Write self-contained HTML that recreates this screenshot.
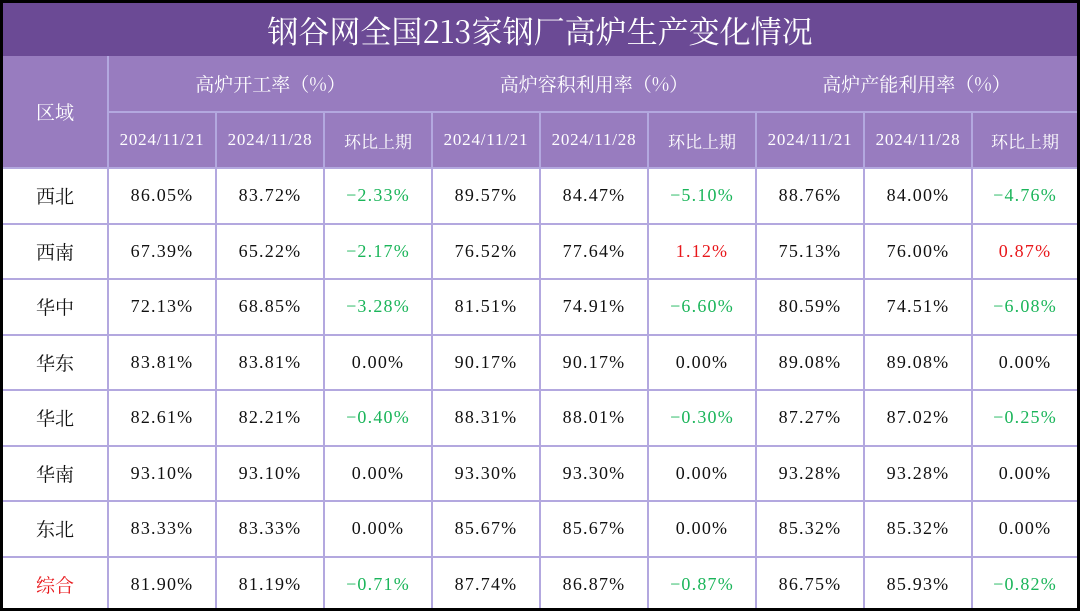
<!DOCTYPE html>
<html><head><meta charset="utf-8"><style>
*{margin:0;padding:0;box-sizing:border-box}
body{width:1080px;height:611px;background:#000;overflow:hidden;position:relative;font-family:"Liberation Serif","Noto Serif CJK SC",serif}
#wrap{position:absolute;left:3px;top:3px;width:1074px;height:605px;background:#fff;overflow:hidden}
#title{position:absolute;left:0;top:0;width:1074px;height:53px;background:#6b4a95;color:#fff;font-size:31px;text-align:center;line-height:53px;font-family:"Noto Serif CJK SC",serif}
table{position:absolute;left:0;top:53px;border-collapse:collapse;table-layout:fixed;width:1074px}
td{border:2px solid #b3a8df;text-align:center;font-size:18px;letter-spacing:1.2px;color:#111;height:55.5px}
.h td{background:#987cbf;color:#fff;border-color:#b3a8df}
tr.h1 td{height:56px;font-size:19px;letter-spacing:0;font-family:"Noto Serif CJK SC",serif}
tr.h2 td{height:56px;font-size:17px;letter-spacing:0.8px}
td.reg{font-size:19px;letter-spacing:0;font-family:"Noto Serif CJK SC",serif}
.g{color:#1bb55a}.r{color:#e8171b}
table tr td:first-child{border-left:none}
table tr td:last-child{border-right:none}
</style></head><body>
<div id="wrap">
<div id="title">钢谷网全国213家钢厂高炉生产变化情况</div>
<table>
<colgroup><col style="width:105px"><col style="width:108px"><col style="width:108px"><col style="width:108px"><col style="width:108px"><col style="width:108px"><col style="width:108px"><col style="width:108px"><col style="width:108px"><col style="width:105px"></colgroup>
<tr class="h h1"><td rowspan="2" style="border-top:none">区域</td>
<td colspan="3" style="border-top:none;border-left:none;border-right:none">高炉开工率（%）</td>
<td colspan="3" style="border-top:none;border-left:none;border-right:none">高炉容积利用率（%）</td>
<td colspan="3" style="border-top:none;border-left:none">高炉产能利用率（%）</td></tr>
<tr class="h h2" id="h2"></tr>
<tbody id="body"></tbody>
</table>
</div>
<script>
const regions=["西北","西南","华中","华东","华北","华南","东北","综合"];
const rows=[
["86.05%","83.72%","-2.33%","89.57%","84.47%","-5.10%","88.76%","84.00%","-4.76%"],
["67.39%","65.22%","-2.17%","76.52%","77.64%","1.12%","75.13%","76.00%","0.87%"],
["72.13%","68.85%","-3.28%","81.51%","74.91%","-6.60%","80.59%","74.51%","-6.08%"],
["83.81%","83.81%","0.00%","90.17%","90.17%","0.00%","89.08%","89.08%","0.00%"],
["82.61%","82.21%","-0.40%","88.31%","88.01%","-0.30%","87.27%","87.02%","-0.25%"],
["93.10%","93.10%","0.00%","93.30%","93.30%","0.00%","93.28%","93.28%","0.00%"],
["83.33%","83.33%","0.00%","85.67%","85.67%","0.00%","85.32%","85.32%","0.00%"],
["81.90%","81.19%","-0.71%","87.74%","86.87%","-0.87%","86.75%","85.93%","-0.82%"]];
const subs=["2024/11/21","2024/11/28","环比上期"];
const h2=document.getElementById('h2');
for(let g=0;g<3;g++)for(let k=0;k<3;k++){const td=document.createElement('td');


td.textContent=subs[k];if(k==2){td.style.fontFamily='"Noto Serif CJK SC",serif';td.style.letterSpacing='0';}h2.appendChild(td);}
const body=document.getElementById('body');
regions.forEach((r,i)=>{const tr=document.createElement('tr');


const c=document.createElement('td');c.className='reg';c.textContent=r;


if(i==7)c.style.color='#e8171b';tr.appendChild(c);
rows[i].forEach((v,j)=>{const td=document.createElement('td');


td.textContent=v.replace('-','−');
if(j%3==2){const n=parseFloat(v);if(n<0)td.className='g';else if(n>0)td.className='r';}
tr.appendChild(td);});
if(i==7)tr.querySelectorAll('td').forEach(t=>t.style.borderBottom='none');
body.appendChild(tr);});
</script>
</body></html>
